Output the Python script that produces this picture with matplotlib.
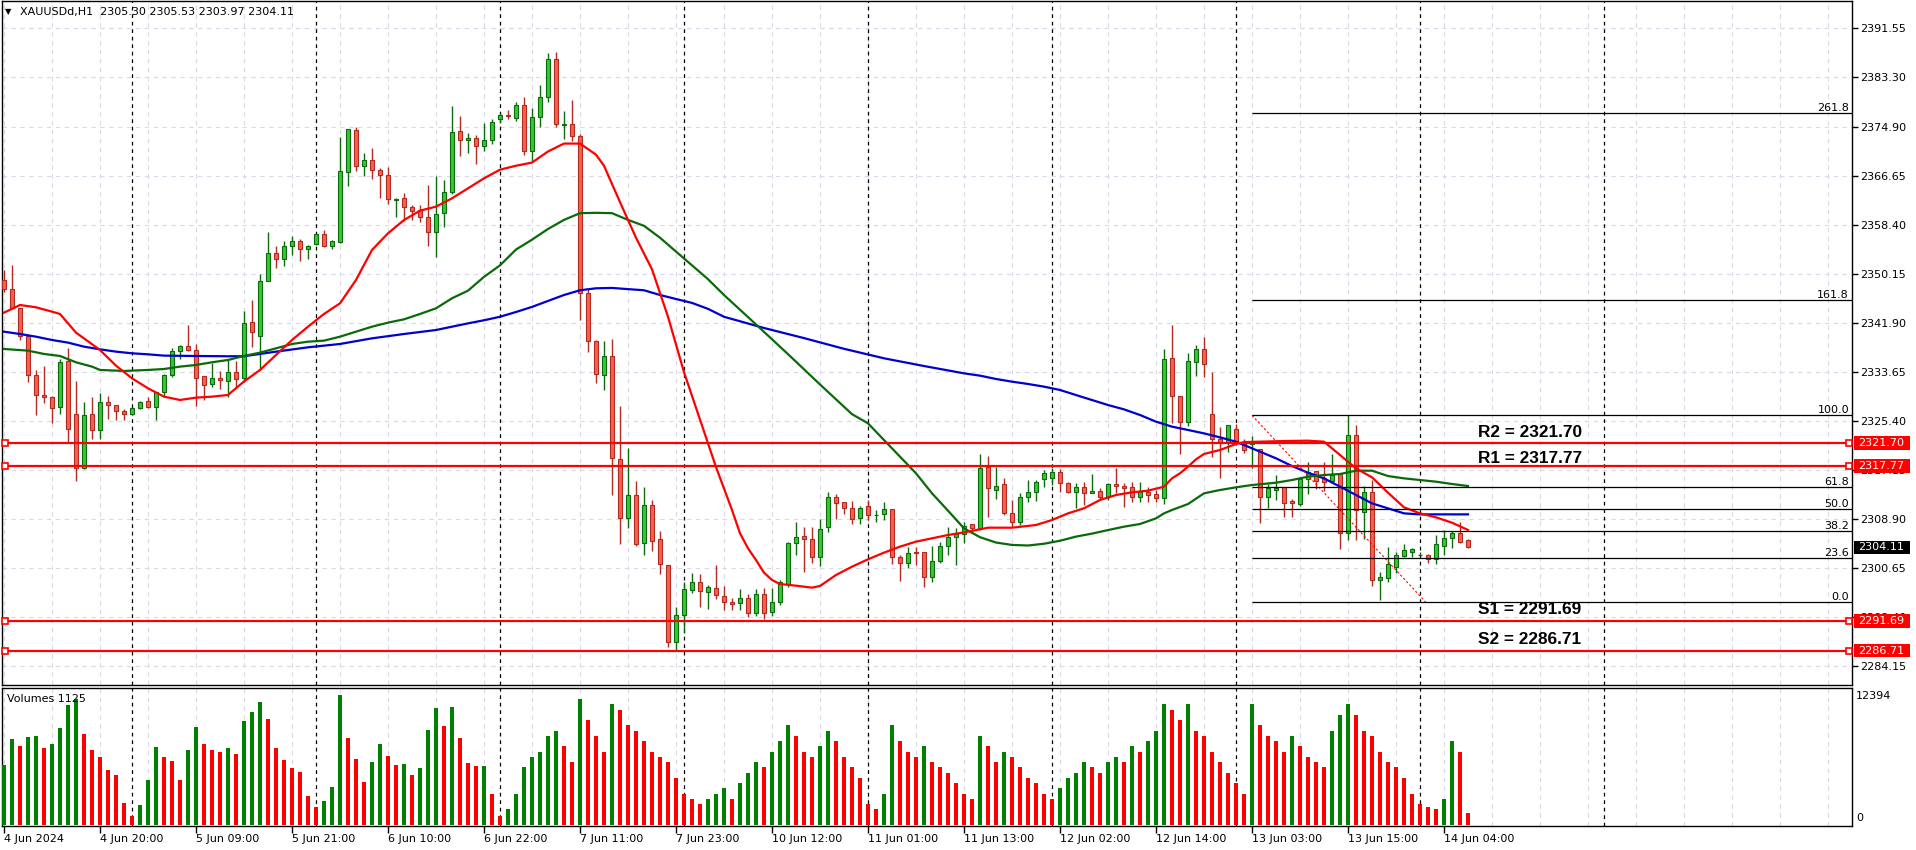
import matplotlib.pyplot as plt
import matplotlib.transforms as mtransforms
from matplotlib.patches import Rectangle

# XAUUSDd H1, bar 0 = 4 Jun 08:00 ... bar 183 = 14 Jun 07:00
opens = [2349.10, 2347.51, 2344.31, 2339.66, 2333.09, 2329.67, 2329.34, 2327.65, 2335.39, 2326.48,
         2317.39, 2326.48, 2323.78, 2328.49, 2327.99, 2326.98, 2326.48, 2327.49, 2328.66, 2327.77,
         2330.18, 2333.04, 2337.08, 2337.92, 2337.25, 2332.87, 2331.53, 2332.53, 2332.03, 2333.54,
         2332.53, 2341.95, 2339.71, 2348.91, 2353.56, 2352.67, 2354.85, 2355.64, 2354.24, 2355.08,
         2356.76, 2354.85, 2355.47, 2367.30, 2374.32, 2368.31, 2369.21, 2367.53, 2366.80, 2362.60,
         2362.80, 2361.30, 2360.80, 2359.62, 2357.21, 2360.30, 2363.83, 2374.15, 2372.58, 2372.91,
         2371.68, 2372.56, 2376.15, 2376.90, 2376.35, 2378.48, 2370.83, 2376.49, 2379.81, 2386.33,
         2375.20, 2375.29, 2373.29, 2346.88, 2338.89, 2333.04, 2336.23, 2318.93, 2309.09, 2312.95,
         2304.76, 2311.28, 2305.43, 2301.17, 2288.20, 2292.65, 2296.98, 2298.18, 2296.51, 2297.31,
         2295.91, 2294.95, 2294.67, 2295.50, 2293.00, 2296.19, 2293.20, 2294.95, 2297.92, 2304.77,
         2306.00, 2305.44, 2302.41, 2307.46, 2312.62, 2311.67, 2310.66, 2308.97, 2311.05, 2309.50,
         2309.65, 2310.49, 2302.41, 2301.51, 2303.30, 2303.25, 2299.05, 2301.74, 2304.37, 2305.78,
         2306.34, 2307.96, 2307.29, 2317.55, 2313.80, 2314.69, 2309.81, 2308.30, 2312.51, 2313.35,
         2315.53, 2315.81, 2316.71, 2314.86, 2313.46, 2314.19, 2313.29, 2313.63, 2312.51, 2314.75,
         2314.47, 2314.19, 2312.51, 2313.46, 2313.00, 2312.34, 2335.89, 2329.61, 2325.24, 2335.33,
         2337.41, 2326.47, 2322.27, 2321.87, 2323.95, 2321.70, 2321.50, 2320.58, 2312.61, 2313.80,
         2314.19, 2311.95, 2311.38, 2315.53, 2316.99, 2315.70, 2315.31, 2316.43, 2306.44, 2322.99,
         2310.09, 2313.46, 2298.59, 2298.87, 2300.84, 2302.63, 2303.36, 2302.80, 2302.80, 2302.07,
         2304.37, 2305.60, 2306.44, 2305.30]
highs = [2350.80, 2351.60, 2344.40, 2339.80, 2333.94, 2334.61, 2329.56, 2335.73, 2337.58, 2332.08,
         2328.49, 2329.34, 2330.12, 2329.56, 2328.00, 2327.30, 2327.50, 2328.66, 2329.34, 2330.20,
         2333.26, 2337.58, 2338.14, 2341.51, 2338.25, 2332.90, 2335.06, 2333.77, 2335.73, 2335.45,
         2343.86, 2345.71, 2350.03, 2357.15, 2354.80, 2355.64, 2356.48, 2355.97, 2354.96, 2356.76,
         2357.49, 2355.80, 2373.08, 2374.43, 2374.77, 2370.39, 2371.23, 2367.90, 2368.03, 2362.93,
         2363.66, 2361.64, 2361.64, 2365.06, 2366.58, 2365.90, 2378.36, 2376.67, 2373.87, 2373.47,
         2375.44, 2376.15, 2377.15, 2377.62, 2379.01, 2379.81, 2378.02, 2381.94, 2387.26, 2387.46,
         2377.48, 2379.28, 2373.63, 2347.54, 2338.90, 2338.89, 2339.09, 2327.85, 2320.80, 2315.28,
         2314.28, 2312.08, 2306.76, 2301.20, 2293.98, 2298.31, 2299.84, 2299.64, 2297.78, 2301.10,
         2297.64, 2295.50, 2297.03, 2296.20, 2297.03, 2297.20, 2297.20, 2298.60, 2305.05, 2308.41,
         2307.57, 2307.57, 2308.81, 2313.46, 2313.07, 2311.67, 2311.89, 2311.05, 2312.06, 2310.38,
         2311.67, 2310.50, 2302.80, 2304.09, 2304.09, 2303.30, 2304.32, 2305.05, 2307.46, 2307.29,
         2308.41, 2308.10, 2319.80, 2319.46, 2317.55, 2315.70, 2312.06, 2313.29, 2315.37, 2315.40,
         2317.11, 2317.38, 2317.27, 2315.14, 2315.00, 2315.14, 2316.38, 2314.02, 2314.97, 2317.38,
         2314.97, 2315.14, 2315.14, 2314.30, 2313.74, 2337.46, 2341.50, 2329.61, 2336.85, 2338.14,
         2339.43, 2333.54, 2324.40, 2324.62, 2324.85, 2322.26, 2322.82, 2320.60, 2314.75, 2316.26,
         2314.20, 2312.17, 2315.98, 2318.50, 2317.00, 2318.50, 2319.79, 2316.50, 2326.36, 2324.67,
         2314.41, 2315.42, 2299.99, 2304.09, 2303.36, 2304.65, 2303.92, 2303.36, 2302.97, 2306.16,
         2307.01, 2306.84, 2308.41, 2305.53]
lows = [2347.00, 2344.20, 2338.98, 2331.97, 2326.36, 2328.44, 2325.07, 2326.48, 2321.76, 2315.31,
        2317.20, 2322.27, 2322.27, 2325.75, 2325.52, 2325.52, 2326.40, 2327.30, 2327.50, 2325.52,
        2329.45, 2332.70, 2335.73, 2337.20, 2327.93, 2328.94, 2331.13, 2330.80, 2329.34, 2331.13,
        2331.97, 2337.86, 2333.93, 2348.90, 2351.15, 2351.49, 2353.23, 2352.33, 2352.55, 2355.00,
        2354.57, 2354.30, 2355.30, 2364.95, 2367.47, 2366.58, 2366.13, 2362.93, 2361.86, 2359.62,
        2359.06, 2359.17, 2358.84, 2354.86, 2353.00, 2358.05, 2363.50, 2369.94, 2370.50, 2368.60,
        2370.84, 2372.03, 2375.50, 2376.15, 2375.82, 2370.03, 2369.17, 2374.82, 2378.95, 2374.82,
        2372.83, 2372.49, 2342.42, 2337.03, 2331.71, 2330.51, 2312.95, 2304.63, 2307.29, 2304.30,
        2302.77, 2303.43, 2299.64, 2287.33, 2286.67, 2289.66, 2296.45, 2293.98, 2293.65, 2295.32,
        2293.55, 2293.55, 2293.50, 2292.30, 2292.50, 2292.00, 2292.50, 2294.39, 2297.48, 2302.80,
        2300.00, 2301.51, 2300.95, 2306.73, 2308.81, 2309.70, 2308.02, 2308.02, 2308.69, 2308.41,
        2308.69, 2301.29, 2298.49, 2300.56, 2301.12, 2297.36, 2298.32, 2301.40, 2302.80, 2301.12,
        2304.88, 2306.50, 2307.00, 2309.14, 2312.23, 2309.53, 2307.57, 2307.85, 2311.78, 2311.90,
        2314.30, 2314.60, 2313.46, 2313.18, 2310.66, 2311.22, 2313.20, 2312.06, 2312.06, 2313.18,
        2310.94, 2311.78, 2311.78, 2311.78, 2311.78, 2311.38, 2324.96, 2319.80, 2324.51, 2332.92,
        2332.70, 2319.35, 2315.70, 2320.19, 2321.60, 2320.00, 2317.38, 2308.13, 2310.65, 2312.05,
        2309.14, 2309.14, 2311.05, 2313.06, 2313.85, 2313.63, 2315.14, 2303.75, 2305.32, 2305.32,
        2305.44, 2297.58, 2295.23, 2298.31, 2299.71, 2302.41, 2302.52, 2302.60, 2301.51, 2301.29,
        2302.80, 2303.92, 2304.76, 2303.97]
closes = [2347.50, 2344.31, 2339.66, 2333.09, 2329.67, 2329.34, 2327.49, 2335.23, 2323.95, 2317.39,
          2326.31, 2323.78, 2328.49, 2327.99, 2326.98, 2326.48, 2327.49, 2328.49, 2327.77, 2330.18,
          2333.04, 2337.08, 2337.92, 2337.25, 2332.53, 2331.36, 2332.53, 2332.20, 2333.54, 2332.36,
          2341.79, 2340.38, 2348.91, 2353.56, 2352.55, 2354.80, 2355.64, 2354.24, 2354.74, 2356.76,
          2354.85, 2355.58, 2367.36, 2374.43, 2368.31, 2369.21, 2367.53, 2366.80, 2362.65, 2362.75,
          2361.30, 2360.74, 2359.62, 2357.21, 2360.18, 2363.83, 2373.98, 2372.58, 2372.91, 2371.68,
          2372.64, 2375.62, 2376.82, 2376.75, 2378.48, 2370.83, 2376.42, 2379.81, 2386.33, 2375.29,
          2375.35, 2373.29, 2346.88, 2338.89, 2333.24, 2336.23, 2319.07, 2309.09, 2312.95, 2304.63,
          2311.28, 2305.10, 2301.30, 2288.20, 2292.65, 2297.11, 2298.18, 2296.78, 2297.38, 2296.11,
          2294.95, 2294.50, 2295.51, 2293.00, 2296.19, 2293.00, 2294.95, 2298.21, 2304.77, 2305.78,
          2305.44, 2302.41, 2307.12, 2312.62, 2311.50, 2310.66, 2308.81, 2310.66, 2309.53, 2309.60,
          2310.49, 2302.41, 2301.51, 2303.20, 2303.20, 2299.05, 2301.74, 2304.37, 2305.78, 2306.34,
          2307.74, 2307.29, 2317.39, 2314.02, 2314.47, 2309.81, 2308.30, 2312.51, 2313.35, 2315.03,
          2316.60, 2316.71, 2314.86, 2313.46, 2314.19, 2313.29, 2313.63, 2312.51, 2314.75, 2314.47,
          2314.13, 2312.51, 2313.46, 2312.90, 2312.34, 2335.73, 2329.61, 2325.24, 2335.50, 2337.41,
          2334.88, 2322.27, 2321.59, 2324.62, 2321.87, 2320.47, 2321.60, 2312.50, 2314.13, 2314.00,
          2311.61, 2311.50, 2315.53, 2316.82, 2315.31, 2315.14, 2316.26, 2306.56, 2322.99, 2310.37,
          2313.46, 2298.59, 2299.04, 2301.28, 2302.80, 2303.64, 2303.81, 2302.85, 2302.07, 2304.65,
          2305.60, 2306.56, 2305.04, 2304.11]
volumes = [5720, 8199, 7532, 8390, 8485, 7341, 7723, 9248, 11441, 11981,
           8676, 7151, 6483, 5244, 4767, 2097, 858, 1907, 4290, 7437,
           6483, 6102, 4290, 7151, 9343, 7723, 7151, 6960, 7341, 6769,
           9915, 10773, 11727, 10106, 7341, 6197, 5434, 5053, 2765, 1716,
           2288, 3623, 12394, 8295, 6292, 4100, 6006, 7723, 6578, 5720,
           5816, 4767, 5434, 9057, 11155, 9439, 11250, 8295, 5911, 5625,
           5660, 2956, 858, 1500, 3000, 5500, 6500, 7000, 8500, 9000,
           7500, 6000, 12000, 10000, 8500, 7000, 11500, 11000, 9500, 9000,
           8000, 7000, 6500, 6000, 4500, 3000, 2500, 2000, 2500, 3000,
           3500, 2500, 4000, 5000, 6000, 5500, 7000, 8000, 9500, 8500,
           7000, 6500, 7500, 9000, 8000, 6500, 5500, 4500, 2000, 1500,
           3000, 9500, 8000, 7000, 6500, 7500, 6000, 5500, 5000, 4000,
           3000, 2500, 8500, 7500, 6000, 7000, 6500, 5500, 4500, 4000,
           3000, 2500, 3500, 4500, 5000, 6000, 5500, 5000, 6000, 6500,
           6000, 7500, 7000, 8000, 9000, 11500, 11000, 10000, 11500, 9000,
           8500, 7000, 6000, 5000, 4000, 3000, 11500, 9500, 8500, 8000,
           7000, 8500, 7500, 6500, 6000, 5500, 9000, 10500, 11500, 10500,
           9000, 8500, 7000, 6000, 5500, 4500, 3000, 2000, 1700, 1500,
           2500, 8000, 7000, 1125]

# moving averages, read at sample bars
ma_red_x = [0, 2, 4, 6, 7, 9, 12, 14, 16, 18, 20, 22, 24, 26, 28, 30, 32, 34, 36, 38, 40, 42, 44, 46,
            48, 50, 52, 54, 56, 58, 60, 62, 64, 66, 68, 70, 72, 74, 75, 77, 79, 81, 83, 85, 87, 89,
            91, 92, 93, 94, 95, 96, 97, 99, 101, 102, 104, 106, 108, 110, 112, 114, 116, 118, 120,
            123, 126, 129, 131, 133, 135, 137, 139, 141, 143, 145, 146, 147, 148, 149, 150, 152,
            154, 155, 157, 160, 163, 165, 167, 169, 171, 173, 175, 177, 179, 181, 183]
ma_red_y = [2343.58, 2344.87, 2344.48, 2343.75, 2343.36, 2340.22, 2337.30, 2334.66, 2332.53, 2330.85,
            2329.45, 2328.89, 2329.28, 2329.45, 2329.73, 2332.00, 2333.93, 2336.46, 2338.98, 2341.22,
            2343.36, 2345.15, 2349.08, 2354.13, 2356.93, 2359.17, 2360.74, 2361.42, 2362.82, 2364.50,
            2366.18, 2367.64, 2368.30, 2368.83, 2370.70, 2372.03, 2372.03, 2370.17, 2368.30, 2362.18,
            2356.19, 2350.87, 2342.89, 2333.57, 2325.59, 2317.60, 2310.38, 2306.45, 2303.93, 2301.96,
            2299.83, 2298.60, 2297.92, 2297.64, 2297.31, 2297.59, 2299.44, 2300.84, 2302.08, 2303.20,
            2304.21, 2305.05, 2305.61, 2306.17, 2306.60, 2307.40, 2307.40, 2307.85, 2308.69, 2309.81,
            2310.66, 2312.06, 2312.90, 2313.35, 2313.63, 2314.30, 2315.70, 2316.55, 2317.67, 2318.90,
            2319.80, 2320.47, 2321.48, 2321.80, 2321.87, 2321.98, 2322.04, 2321.87, 2319.63, 2317.38,
            2315.87, 2313.29, 2310.82, 2309.81, 2309.14, 2308.24, 2307.01]
ma_green_x = [0, 3, 5, 7, 9, 11, 12, 15, 18, 20, 22, 24, 26, 28, 30, 32, 34, 36, 38, 40, 42, 44, 46,
              48, 50, 52, 54, 56, 58, 60, 62, 64, 66, 68, 70, 72, 74, 76, 78, 80, 82, 84, 86, 88, 90,
              94, 98, 102, 106, 108, 110, 112, 114, 116, 118, 120, 122, 124, 126, 128, 130, 132, 134,
              136, 138, 140, 142, 144, 145, 146, 148, 150, 152, 154, 156, 159, 161, 163, 165, 167,
              169, 171, 173, 175, 177, 179, 181, 183]
ma_green_y = [2337.47, 2337.19, 2336.63, 2336.29, 2335.23, 2334.50, 2333.94, 2333.77, 2333.94, 2334.10,
              2334.50, 2334.78, 2335.23, 2335.62, 2336.30, 2336.85, 2337.58, 2338.31, 2338.70, 2338.87,
              2339.54, 2340.38, 2341.22, 2341.90, 2342.46, 2343.36, 2344.31, 2346.00, 2347.28, 2349.60,
              2351.54, 2354.20, 2355.86, 2357.66, 2359.19, 2360.32, 2360.38, 2360.32, 2359.19, 2358.19,
              2356.19, 2353.86, 2351.54, 2349.21, 2346.55, 2341.60, 2336.60, 2331.50, 2326.50, 2324.96,
              2322.15, 2319.35, 2316.55, 2313.18, 2310.26, 2307.29, 2305.80, 2304.90, 2304.50, 2304.40,
              2304.70, 2305.20, 2305.90, 2306.40, 2307.00, 2307.57, 2308.02, 2308.97, 2309.81, 2310.38,
              2311.38, 2313.18, 2313.74, 2314.19, 2314.58, 2314.97, 2315.42, 2315.98, 2316.26, 2316.43,
              2316.99, 2316.99, 2316.09, 2315.70, 2315.42, 2315.14, 2314.75, 2314.41]
ma_blue_x = [0, 2, 4, 6, 8, 10, 12, 14, 16, 18, 20, 24, 28, 30, 34, 38, 42, 46, 50, 54, 56, 58, 60,
             62, 64, 66, 68, 70, 72, 74, 76, 78, 80, 82, 84, 86, 88, 90, 95, 100, 105, 110, 115, 120,
             122, 124, 126, 128, 130, 132, 134, 136, 138, 140, 142, 144, 146, 148, 150, 152, 154, 155,
             157, 159, 161, 163, 165, 167, 169, 171, 173, 175, 177, 183]
ma_blue_y = [2340.38, 2339.99, 2339.54, 2338.98, 2338.54, 2337.86, 2337.41, 2337.02, 2336.74, 2336.57,
             2336.35, 2336.29, 2336.24, 2336.25, 2337.02, 2337.75, 2338.31, 2339.26, 2339.99, 2340.66,
             2341.22, 2341.78, 2342.30, 2342.89, 2343.69, 2344.55, 2345.55, 2346.55, 2347.35, 2347.68,
             2347.74, 2347.54, 2347.35, 2346.55, 2345.88, 2345.22, 2344.22, 2342.89, 2341.00, 2339.30,
             2337.50, 2335.90, 2334.60, 2333.37, 2332.98, 2332.42, 2331.97, 2331.58, 2331.13, 2330.57,
             2329.72, 2328.88, 2328.04, 2327.31, 2326.36, 2325.24, 2324.40, 2323.84, 2323.27, 2322.60,
             2321.87, 2321.31, 2320.19, 2319.07, 2317.77, 2316.65, 2315.70, 2314.30, 2312.90, 2311.49,
             2310.65, 2309.81, 2309.64, 2309.64]

price_ticks = [2391.55, 2383.30, 2374.90, 2366.65, 2358.40, 2350.15, 2341.90, 2333.65, 2325.40,
               2317.15, 2308.90, 2300.65, 2292.40, 2284.15]
date_labels = ['4 Jun 2024', '4 Jun 20:00', '5 Jun 09:00', '5 Jun 21:00', '6 Jun 10:00', '6 Jun 22:00',
               '7 Jun 11:00', '7 Jun 23:00', '10 Jun 12:00', '11 Jun 01:00', '11 Jun 13:00',
               '12 Jun 02:00', '12 Jun 14:00', '13 Jun 03:00', '13 Jun 15:00', '14 Jun 04:00']
day_starts = [16, 39, 62, 85, 108, 131, 154, 177, 200]

sr_names = ['R2', 'R1', 'S1', 'S2']
sr_levels = [2321.70, 2317.77, 2291.69, 2286.71]
fib_start, fib_end = 156, 177.7
fib_high, fib_low = 2326.30, 2294.90
fib_ratios = [0.0, 23.6, 38.2, 50.0, 61.8, 100.0, 161.8, 261.8]
last_price = 2304.11

W, H = 1916, 850
fig = plt.figure(figsize=(W / 100, H / 100), dpi=100)


def fx(px):
    return px / W


def fy(py):
    return 1 - py / H


ax = fig.add_axes([fx(2), fy(685), fx(1852) - fx(2), fy(1) - fy(685)])
axv = fig.add_axes([fx(2), fy(826), fx(1852) - fx(2), fy(688) - fy(826)])
xmin, xmax = -0.25, 231.0
grid_c = '#d9d9ea'

for a in (ax, axv):
    a.set_xlim(xmin, xmax)
    for k in range(0, 232, 6):
        a.axvline(k, color=grid_c, ls=(0, (4, 4)), lw=0.8, zorder=0)
    for d in day_starts:
        a.axvline(d, color='black', ls=(0, (3, 3)), lw=0.9, zorder=1)
    for s in a.spines.values():
        s.set_linewidth(1.0)

ax.set_ylim(2280.93, 2396.02)
for p in price_ticks:
    ax.axhline(p, color=grid_c, ls=(0, (4, 4)), lw=0.8, zorder=0)

# candles
x = list(range(len(closes)))
up = [c >= o for o, c in zip(opens, closes)]
edge = ['#0b6b0b' if u else '#b02a22' for u in up]
fill = ['#34c934' if u else '#fa5f4c' for u in up]
ax.vlines(x, lows, highs, colors=edge, lw=1.0, zorder=3)
body_h = [max(abs(c - o), 0.06) for o, c in zip(opens, closes)]
body_b = [min(o, c) for o, c in zip(opens, closes)]
ax.bar(x, body_h, bottom=body_b, width=0.6, color=fill, edgecolor=edge, lw=0.8, zorder=4)

ax.plot(ma_blue_x, ma_blue_y, color='#0000d0', lw=1.6, zorder=5)
ax.plot(ma_green_x, ma_green_y, color='#0a6a0a', lw=1.6, zorder=5)
ax.plot(ma_red_x, ma_red_y, color='#ff0000', lw=1.6, zorder=5)

# fibonacci
rng = fib_high - fib_low
ax.plot([fib_start, fib_end], [fib_high, fib_low], color='red', ls=(0, (2, 2)), lw=0.8, zorder=6)
for r in fib_ratios:
    lv = fib_low + rng * r / 100
    ax.hlines(lv, fib_start, xmax, colors='black', lw=0.9, zorder=6)
    ax.annotate(f'{r:.1f}', xy=(xmax, lv), xytext=(-3, 2), textcoords='offset pixels',
                ha='right', va='baseline', fontsize=8, zorder=7)

# support / resistance
blend = mtransforms.blended_transform_factory(fig.transFigure, ax.transData)
sr_offsets = [5.4, 2.7, 6.7, 6.7]
for name, lv, off in zip(sr_names, sr_levels, sr_offsets):
    ax.axhline(lv, color='red', lw=1.6, zorder=7)
    ax.plot([0.12, 230.6], [lv, lv], ls='none', marker='s', ms=4, mfc='white', mec='red',
            mew=1.2, zorder=8, clip_on=False)
    ax.annotate(f'{name} = {lv:.2f}', xy=(190.75, lv), xytext=(0, off), textcoords='offset pixels',
                ha='center', va='baseline', fontsize=12.4, fontweight='bold',
                family='Liberation Sans', zorder=8)
    ax.add_patch(Rectangle((fx(1854), lv - 1.15), fx(56) - fx(0), 2.3, transform=blend,
                           fc='red', ec='none', zorder=9, clip_on=False))
    ax.text(fx(1858), lv, f'{lv:.2f}', transform=blend, color='white', fontsize=8,
            va='center', ha='left', zorder=10, clip_on=False)

ax.add_patch(Rectangle((fx(1854), last_price - 1.1), fx(56) - fx(0), 2.2, transform=blend,
                       fc='black', ec='none', zorder=9, clip_on=False))
ax.text(fx(1858), last_price, f'{last_price:.2f}', transform=blend, color='white', fontsize=8,
        va='center', ha='left', zorder=10, clip_on=False)

ax.yaxis.tick_right()
ax.set_yticks(price_ticks)
ax.set_yticklabels([f'{p:.2f}' for p in price_ticks])
ax.tick_params(axis='y', direction='out', length=4, width=1, pad=2, labelsize=8)
ax.set_xticks([])

# volumes
vcol = ['#008000'] + ['#008000' if volumes[i] > volumes[i - 1] else '#ff0000'
                      for i in range(1, len(volumes))]
axv.bar(x, volumes, width=0.62, color=vcol, zorder=3)
axv.set_ylim(-95, 13061)
axv.set_yticks([])
axv.set_xticks(range(0, 12 * len(date_labels), 12))
axv.set_xticklabels(date_labels, ha='left', fontsize=8)
axv.tick_params(axis='x', direction='out', length=5, width=1, pad=1)

fig.text(fx(7), fy(699), f'Volumes {volumes[-1]}', fontsize=8, va='center')
fig.text(fx(1856), fy(696), f'{max(volumes)}', fontsize=8, va='center')
fig.text(fx(1856), fy(818), '0', fontsize=8, va='center')

fig.text(fx(5), fy(12), '\u25bc', fontsize=6, va='center')
fig.text(fx(20), fy(12), f'XAUUSDd,H1  {opens[-1]:.2f} {highs[-1]:.2f} {lows[-1]:.2f} {closes[-1]:.2f}',
         fontsize=8, va='center')

fig.savefig('out.png', dpi=100)
